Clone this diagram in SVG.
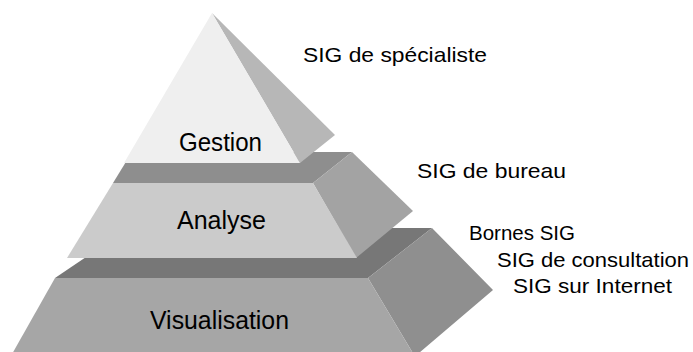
<svg xmlns="http://www.w3.org/2000/svg" width="693" height="352" viewBox="0 0 693 352">
  <style>
    text { font-family: "Liberation Sans", Arial, sans-serif; fill: #000; }
    .tier { font-size: 25px; }
    .note { font-size: 21px; }
  </style>
  <rect width="693" height="352" fill="#ffffff"/>

  <!-- Bottom tier: Visualisation -->
  <g id="tier-visualisation">
    <polygon points="55,278 129,228 432,228 368,278" fill="#777777"/>
    <polygon points="368,278 432,228 493,290 399,370 423,370" fill="#8f8f8f"/>
    <polygon points="55,278 368,278 423,370 3,370" fill="#a6a6a6"/>
    <text class="tier" x="150" y="329" textLength="139" lengthAdjust="spacingAndGlyphs">Visualisation</text>
  </g>

  <!-- Middle tier: Analyse -->
  <g id="tier-analyse">
    <polygon points="113,183 132,152 352,152 313,183" fill="#8e8e8e"/>
    <polygon points="313,183 352,152 413,211 356,258" fill="#a3a3a3"/>
    <polygon points="113,183 313,183 357,258 67,258" fill="#cbcbcb"/>
    <text class="tier" x="177" y="229" textLength="89" lengthAdjust="spacingAndGlyphs">Analyse</text>
  </g>

  <!-- Top: Gestion -->
  <g id="tier-gestion">
    <polygon points="212,13 335,135 300,163" fill="#b7b7b7"/>
    <polygon points="212,13 300,163 124,163" fill="#efefef"/>
    <text class="tier" x="179" y="151" textLength="83" lengthAdjust="spacingAndGlyphs">Gestion</text>
  </g>

  <!-- Side labels -->
  <g id="label-specialiste">
    <text class="note" x="303" y="62" textLength="184" lengthAdjust="spacingAndGlyphs">SIG de spécialiste</text>
  </g>
  <g id="label-bureau">
    <text class="note" x="417" y="178" textLength="149" lengthAdjust="spacingAndGlyphs">SIG de bureau</text>
  </g>
  <g id="label-consultation">
    <text class="note" x="469" y="240" textLength="106" lengthAdjust="spacingAndGlyphs">Bornes SIG</text>
    <text class="note" x="497" y="267" textLength="192" lengthAdjust="spacingAndGlyphs">SIG de consultation</text>
    <text class="note" x="513" y="293" textLength="159" lengthAdjust="spacingAndGlyphs">SIG sur Internet</text>
  </g>
</svg>
